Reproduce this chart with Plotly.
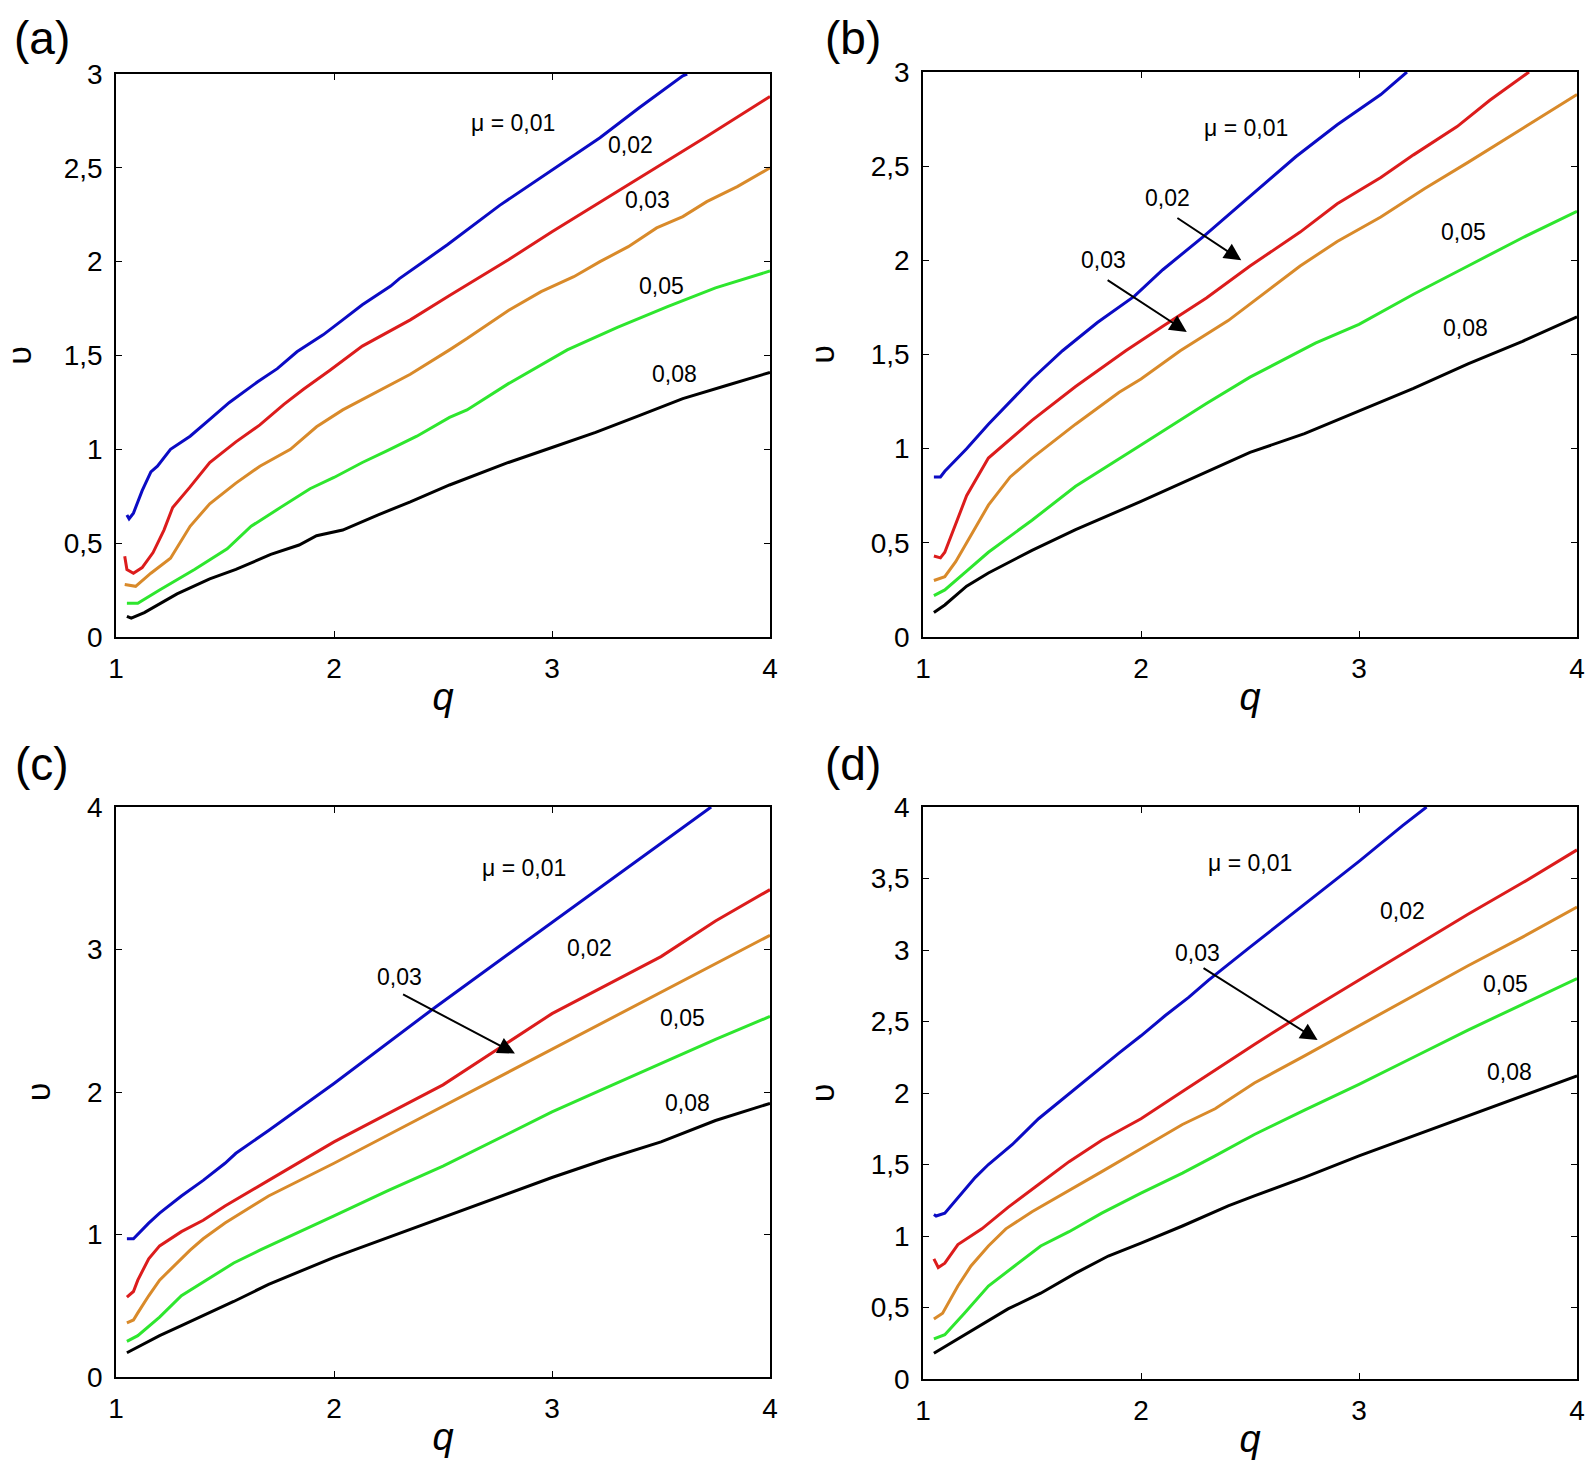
import plotly.graph_objects as go

# ---------------- data ----------------
mu_labels = ["0,01", "0,02", "0,03", "0,05", "0,08"]
colors = ["#0b0bc4", "#dc1c1c", "#d98a2a", "#2ee62e", "#000000"]

# panel (a)
q_a_blue = [1.05, 1.06, 1.08, 1.12, 1.16, 1.19, 1.25, 1.34, 1.43, 1.52, 1.65, 1.74, 1.83, 1.95, 2.04, 2.13, 2.26, 2.30, 2.41, 2.52, 2.76, 2.99, 3.22, 3.40, 3.60, 3.62]
v_a_blue = [0.65, 0.63, 0.66, 0.78, 0.88, 0.91, 1.00, 1.07, 1.16, 1.25, 1.36, 1.43, 1.52, 1.61, 1.69, 1.77, 1.87, 1.91, 2.00, 2.09, 2.30, 2.48, 2.66, 2.82, 2.99, 3.00]
q_a_red = [1.04, 1.05, 1.08, 1.12, 1.17, 1.22, 1.26, 1.34, 1.43, 1.55, 1.66, 1.77, 1.86, 1.98, 2.13, 2.35, 2.53, 2.80, 3.00, 3.14, 3.40, 3.70, 4.00]
v_a_red = [0.43, 0.36, 0.34, 0.37, 0.45, 0.57, 0.69, 0.80, 0.93, 1.04, 1.13, 1.24, 1.32, 1.42, 1.55, 1.69, 1.82, 2.01, 2.16, 2.26, 2.45, 2.66, 2.88]
q_a_orange = [1.04, 1.09, 1.16, 1.25, 1.34, 1.43, 1.55, 1.66, 1.80, 1.92, 2.04, 2.20, 2.35, 2.53, 2.61, 2.80, 2.95, 3.10, 3.22, 3.35, 3.48, 3.60, 3.71, 3.85, 4.00]
v_a_orange = [0.28, 0.27, 0.34, 0.42, 0.59, 0.71, 0.82, 0.91, 1.00, 1.12, 1.21, 1.31, 1.40, 1.53, 1.59, 1.74, 1.84, 1.92, 2.00, 2.08, 2.18, 2.24, 2.32, 2.40, 2.50]
q_a_green = [1.05, 1.10, 1.20, 1.36, 1.51, 1.62, 1.74, 1.89, 2.00, 2.13, 2.24, 2.38, 2.53, 2.61, 2.80, 3.07, 3.30, 3.53, 3.75, 4.00]
v_a_green = [0.18, 0.18, 0.25, 0.36, 0.47, 0.59, 0.68, 0.79, 0.85, 0.93, 0.99, 1.07, 1.17, 1.21, 1.35, 1.53, 1.65, 1.76, 1.86, 1.95]
q_a_black = [1.05, 1.07, 1.13, 1.28, 1.43, 1.55, 1.71, 1.84, 1.92, 2.04, 2.20, 2.35, 2.53, 2.80, 3.00, 3.20, 3.40, 3.60, 3.80, 4.00]
v_a_black = [0.11, 0.10, 0.13, 0.23, 0.31, 0.36, 0.44, 0.49, 0.54, 0.57, 0.65, 0.72, 0.81, 0.93, 1.01, 1.09, 1.18, 1.27, 1.34, 1.41]

# panel (b)
q_b_blue = [1.05, 1.08, 1.10, 1.20, 1.30, 1.40, 1.50, 1.64, 1.80, 1.97, 2.10, 2.29, 2.50, 2.71, 2.90, 3.10, 3.22]
v_b_blue = [0.85, 0.85, 0.88, 1.00, 1.13, 1.25, 1.37, 1.52, 1.67, 1.81, 1.95, 2.13, 2.34, 2.55, 2.72, 2.88, 3.00]
q_b_red = [1.05, 1.08, 1.10, 1.15, 1.20, 1.30, 1.40, 1.50, 1.70, 1.93, 2.10, 2.30, 2.50, 2.73, 2.90, 3.10, 3.25, 3.45, 3.60, 3.78]
v_b_red = [0.43, 0.42, 0.45, 0.60, 0.75, 0.95, 1.05, 1.15, 1.33, 1.52, 1.65, 1.80, 1.97, 2.15, 2.30, 2.44, 2.56, 2.71, 2.85, 3.00]
q_b_orange = [1.05, 1.10, 1.15, 1.20, 1.30, 1.40, 1.50, 1.70, 1.90, 2.00, 2.18, 2.40, 2.73, 2.90, 3.10, 3.30, 3.50, 3.75, 4.00]
v_b_orange = [0.30, 0.32, 0.40, 0.50, 0.70, 0.85, 0.95, 1.13, 1.30, 1.37, 1.52, 1.68, 1.97, 2.10, 2.23, 2.38, 2.52, 2.70, 2.88]
q_b_green = [1.05, 1.10, 1.20, 1.30, 1.50, 1.70, 2.00, 2.30, 2.50, 2.80, 3.00, 3.25, 3.50, 3.75, 4.00]
v_b_green = [0.22, 0.25, 0.35, 0.45, 0.62, 0.80, 1.02, 1.24, 1.38, 1.56, 1.66, 1.82, 1.97, 2.12, 2.26]
q_b_black = [1.05, 1.10, 1.20, 1.30, 1.50, 1.70, 2.00, 2.25, 2.50, 2.75, 3.00, 3.25, 3.50, 3.75, 4.00]
v_b_black = [0.13, 0.17, 0.27, 0.34, 0.46, 0.57, 0.72, 0.85, 0.98, 1.08, 1.20, 1.32, 1.45, 1.57, 1.70]

# panel (c)
q_c_blue = [1.05, 1.08, 1.15, 1.20, 1.30, 1.40, 1.50, 1.55, 1.70, 2.00, 2.46, 3.00, 3.50, 3.73]
v_c_blue = [0.97, 0.97, 1.08, 1.15, 1.27, 1.38, 1.50, 1.57, 1.73, 2.06, 2.59, 3.19, 3.75, 4.00]
q_c_red = [1.05, 1.08, 1.10, 1.15, 1.20, 1.30, 1.40, 1.50, 1.70, 2.00, 2.25, 2.50, 2.75, 3.00, 3.25, 3.50, 3.75, 4.00]
v_c_red = [0.56, 0.60, 0.68, 0.83, 0.92, 1.02, 1.10, 1.20, 1.38, 1.65, 1.85, 2.05, 2.30, 2.55, 2.75, 2.95, 3.20, 3.42]
q_c_orange = [1.05, 1.08, 1.10, 1.15, 1.20, 1.34, 1.40, 1.50, 1.70, 2.00, 2.25, 2.50, 2.75, 3.00, 3.25, 3.50, 3.75, 4.00]
v_c_orange = [0.38, 0.40, 0.45, 0.57, 0.68, 0.89, 0.97, 1.08, 1.27, 1.50, 1.70, 1.90, 2.10, 2.30, 2.50, 2.70, 2.90, 3.10]
q_c_green = [1.05, 1.10, 1.20, 1.30, 1.54, 1.66, 2.00, 2.25, 2.50, 2.75, 3.00, 3.25, 3.50, 3.75, 4.00]
v_c_green = [0.25, 0.29, 0.42, 0.57, 0.80, 0.89, 1.13, 1.31, 1.48, 1.67, 1.86, 2.03, 2.20, 2.37, 2.53]
q_c_black = [1.05, 1.10, 1.20, 1.30, 1.54, 1.70, 2.00, 2.09, 2.25, 2.50, 2.75, 3.00, 3.25, 3.50, 3.75, 4.00]
v_c_black = [0.17, 0.21, 0.29, 0.36, 0.53, 0.65, 0.84, 0.89, 0.98, 1.12, 1.26, 1.40, 1.53, 1.65, 1.80, 1.92]

# panel (d)
q_d_blue = [1.05, 1.06, 1.10, 1.16, 1.24, 1.30, 1.41, 1.53, 1.65, 1.79, 1.90, 2.00, 2.11, 2.22, 2.31, 2.50, 2.80, 3.00, 3.20, 3.31]
v_d_blue = [1.15, 1.14, 1.16, 1.27, 1.41, 1.50, 1.64, 1.82, 1.97, 2.14, 2.28, 2.40, 2.54, 2.67, 2.79, 3.02, 3.38, 3.62, 3.87, 4.00]
q_d_red = [1.05, 1.07, 1.10, 1.16, 1.27, 1.39, 1.53, 1.67, 1.82, 2.00, 2.19, 2.34, 2.52, 2.75, 3.00, 3.25, 3.50, 3.75, 4.00]
v_d_red = [0.84, 0.78, 0.81, 0.94, 1.05, 1.20, 1.36, 1.52, 1.67, 1.82, 2.01, 2.16, 2.34, 2.56, 2.79, 3.02, 3.25, 3.47, 3.70]
q_d_orange = [1.05, 1.09, 1.16, 1.22, 1.30, 1.38, 1.50, 1.65, 1.82, 2.00, 2.19, 2.34, 2.52, 2.75, 3.00, 3.25, 3.50, 3.75, 4.00]
v_d_orange = [0.42, 0.46, 0.65, 0.79, 0.93, 1.05, 1.17, 1.30, 1.45, 1.61, 1.78, 1.89, 2.07, 2.26, 2.47, 2.68, 2.89, 3.09, 3.30]
q_d_green = [1.05, 1.10, 1.19, 1.30, 1.42, 1.54, 1.67, 1.82, 2.00, 2.19, 2.34, 2.52, 2.75, 3.00, 3.25, 3.50, 3.75, 4.00]
v_d_green = [0.28, 0.31, 0.46, 0.65, 0.79, 0.93, 1.03, 1.16, 1.30, 1.44, 1.56, 1.71, 1.88, 2.06, 2.25, 2.44, 2.62, 2.80]
q_d_black = [1.05, 1.19, 1.39, 1.54, 1.70, 1.85, 2.00, 2.19, 2.40, 2.52, 2.75, 3.00, 3.25, 3.50, 3.75, 4.00]
v_d_black = [0.18, 0.31, 0.49, 0.60, 0.74, 0.86, 0.95, 1.07, 1.21, 1.28, 1.41, 1.56, 1.70, 1.84, 1.98, 2.12]

# curve labels: (text, q, v)
labels_a = [("μ = 0,01", 2.82, 2.74), ("0,02", 3.36, 2.62), ("0,03", 3.44, 2.33), ("0,05", 3.50, 1.87), ("0,08", 3.56, 1.40)]
labels_b = [("μ = 0,01", 2.48, 2.70), ("0,02", 2.12, 2.33), ("0,03", 1.83, 2.00), ("0,05", 3.48, 2.15), ("0,08", 3.49, 1.64)]
labels_c = [("μ = 0,01", 2.87, 3.57), ("0,02", 3.17, 3.01), ("0,03", 2.30, 2.81), ("0,05", 3.60, 2.52), ("0,08", 3.62, 1.92)]
labels_d = [("μ = 0,01", 2.50, 3.61), ("0,02", 3.20, 3.27), ("0,03", 2.26, 2.98), ("0,05", 3.67, 2.76), ("0,08", 3.69, 2.15)]

# arrows: (tail_q, tail_v, head_q, head_v)
arrows_b = [(2.16, 2.23, 2.46, 2.00), (1.84, 1.90, 2.21, 1.62)]
arrows_c = [(2.31, 2.69, 2.83, 2.27)]
arrows_d = [(2.28, 2.88, 2.81, 2.37)]

panel_names = ["(a)", "(b)", "(c)", "(d)"]

# ---------------- figure ----------------
W, H = 1587, 1461
FONT = "Liberation Sans, Arial, Helvetica, sans-serif"

panels = [
    dict(curves=[(q_a_blue, v_a_blue), (q_a_red, v_a_red), (q_a_orange, v_a_orange), (q_a_green, v_a_green), (q_a_black, v_a_black)],
         labels=labels_a, arrows=[], ymax=3, dtick=0.5,
         px=(116, 770), py=(74, 637)),
    dict(curves=[(q_b_blue, v_b_blue), (q_b_red, v_b_red), (q_b_orange, v_b_orange), (q_b_green, v_b_green), (q_b_black, v_b_black)],
         labels=labels_b, arrows=arrows_b, ymax=3, dtick=0.5,
         px=(923, 1577), py=(72, 637)),
    dict(curves=[(q_c_blue, v_c_blue), (q_c_red, v_c_red), (q_c_orange, v_c_orange), (q_c_green, v_c_green), (q_c_black, v_c_black)],
         labels=labels_c, arrows=arrows_c, ymax=4, dtick=1,
         px=(116, 770), py=(807, 1377)),
    dict(curves=[(q_d_blue, v_d_blue), (q_d_red, v_d_red), (q_d_orange, v_d_orange), (q_d_green, v_d_green), (q_d_black, v_d_black)],
         labels=labels_d, arrows=arrows_d, ymax=4, dtick=0.5,
         px=(923, 1577), py=(807, 1379)),
]
panel_label_pos = [(42, 38), (853, 38), (42, 764), (853, 764)]

fig = go.Figure()
annotations = []
layout_axes = {}

for i, p in enumerate(panels):
    n = "" if i == 0 else str(i + 1)
    xa, ya = "x" + n, "y" + n
    for (qs, vs), col, lab in zip(p["curves"], colors, mu_labels):
        fig.add_trace(go.Scatter(x=qs, y=vs, mode="lines", name="μ = " + lab,
                                 line=dict(color=col, width=3), xaxis=xa, yaxis=ya,
                                 showlegend=False))
    x0, x1 = p["px"]
    y0, y1 = p["py"]
    common = dict(showline=True, linecolor="black", linewidth=1.5, mirror="ticks",
                  ticks="inside", ticklen=6, tickwidth=1, tickcolor="black",
                  showgrid=False, zeroline=False, automargin=False,
                  tickfont=dict(family=FONT, size=28, color="black"))
    layout_axes["xaxis" + n] = dict(common, domain=[x0 / W, x1 / W], anchor=ya,
                                    range=[1, 4], tickvals=[1, 2, 3, 4], ticklabelstandoff=6,
                                    title=dict(text="<i>q</i>", font=dict(family=FONT, size=38, color="black"), standoff=0))
    layout_axes["yaxis" + n] = dict(common, domain=[1 - y1 / H, 1 - y0 / H], anchor=xa,
                                    range=[0, p["ymax"]], dtick=p["dtick"], tick0=0, ticklabelstandoff=6,
                                    title=dict(text="υ", font=dict(family=FONT, size=34, color="black"), standoff=26))
    for txt, q, v in p["labels"]:
        annotations.append(dict(x=q, y=v, xref=xa, yref=ya, text=txt, showarrow=False,
                                font=dict(family=FONT, size=23, color="black"),
                                xanchor="center", yanchor="middle"))
    for tq, tv, hq, hv in p["arrows"]:
        annotations.append(dict(x=hq, y=hv, ax=tq, ay=tv, xref=xa, yref=ya, axref=xa, ayref=ya,
                                text="", showarrow=True, arrowhead=2, arrowsize=1.7,
                                arrowwidth=2, arrowcolor="black", standoff=0))
    lx, ly = panel_label_pos[i]
    annotations.append(dict(x=lx / W, y=1 - ly / H, xref="paper", yref="paper", text=panel_names[i],
                            showarrow=False, font=dict(family=FONT, size=46, color="black"),
                            xanchor="center", yanchor="middle"))

fig.update_layout(width=W, height=H, margin=dict(l=0, r=0, t=0, b=0, autoexpand=False),
                  paper_bgcolor="white", plot_bgcolor="white",
                  separators=", ", annotations=annotations,
                  font=dict(family=FONT, color="black"), **layout_axes)

fig.write_html("out.html", config={"displayModeBar": False},
               post_script="document.body.style.margin='0px';document.body.style.overflow='hidden';")
